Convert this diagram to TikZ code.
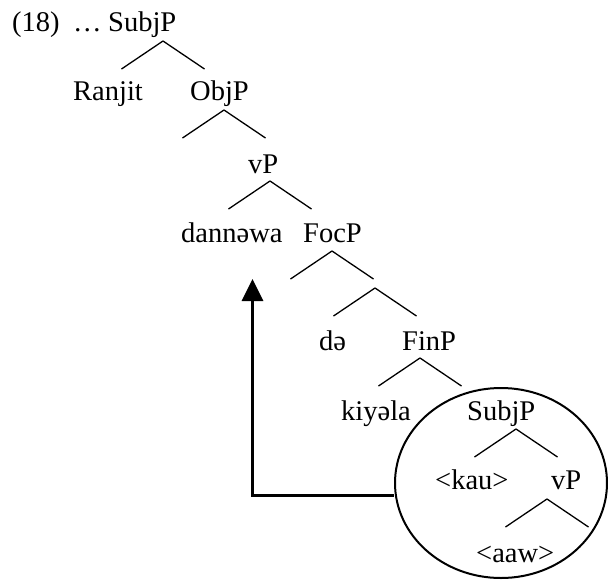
\documentclass[tikz,border=0pt]{standalone}
\usepackage{fontspec}
\setmainfont{Liberation Serif}
\usetikzlibrary{arrows.meta,shapes.geometric}
\begin{document}
\begin{tikzpicture}[x=1pt,y=-1pt,
  lab/.style={anchor=base west,inner sep=0pt,font=\fontsize{28.5}{30}\selectfont},
  br/.style={line width=1.3pt},
  mv/.style={line width=3pt,-{Triangle[width=21pt,length=22pt]}},
  ring/.style={draw,ellipse,line width=2pt,minimum width=212pt,minimum height=190pt,inner sep=0pt}]
\useasboundingbox (0,0) rectangle (608,579);
% labels
\node[lab] (ex)   at (12,31)  {(18)};
\node[lab] (dots) at (73,31)  {…};
\node[lab] (subj1) at (108,31) {SubjP};
\node[lab] (ranjit) at (73,100) {Ranjit};
\node[lab] (objp) at (190,100) {ObjP};
\node[lab] (vp1) at (248,173) {vP};
\node[lab] (dann) at (181,242) {dannəwa};
\node[lab] (focp) at (303,242) {FocP};
\node[lab] (de) at (319,350) {də};
\node[lab] (finp) at (402,350) {FinP};
\node[lab] (kiy) at (341,420) {kiyəla};
\node[lab] (subj2) at (467,420) {SubjP};
\node[lab] (kau) at (435,489) {<kau>};
\node[lab] (vp2) at (551,489) {vP};
\node[lab] (aaw) at (476,562) {<aaw>};
% branch apexes
\coordinate (a1) at (163,41);
\coordinate (a2) at (224,110);
\coordinate (a3) at (270,181);
\coordinate (a4) at (332,251);
\coordinate (a5) at (375,288);
\coordinate (a6) at (420,358);
\coordinate (a7) at (516,429);
\coordinate (a8) at (547,499);
\foreach \a in {a1,a2,a3,a4,a5,a6,a7,a8}{
  \draw[br] (\a) -- ++(-41.5,28);
  \draw[br] (\a) -- ++(41.5,28);
}
% circle and movement arrow
\node[ring] (circ) at (501,483) {};
\coordinate (tgt) at (252.5,279);
\draw[mv] ([yshift=-12pt]circ.west) -| (tgt);
\end{tikzpicture}
\end{document}
